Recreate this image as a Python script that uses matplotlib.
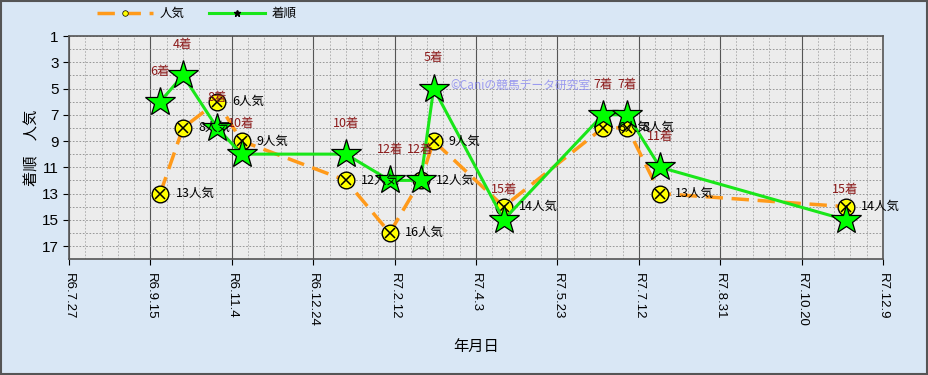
import matplotlib
matplotlib.use("Agg")
import matplotlib.pyplot as plt
import matplotlib.dates as mdates
from matplotlib.patches import Rectangle
import datetime as dt

plt.rcParams['font.family'] = ['Noto Sans CJK JP', 'DejaVu Sans']

# レース日
dates = [dt.date(2024, 9, 21), dt.date(2024, 10, 5), dt.date(2024, 10, 26),
         dt.date(2024, 11, 10), dt.date(2025, 1, 13), dt.date(2025, 2, 9),
         dt.date(2025, 2, 28), dt.date(2025, 3, 8), dt.date(2025, 4, 20),
         dt.date(2025, 6, 20), dt.date(2025, 7, 5), dt.date(2025, 7, 25),
         dt.date(2025, 11, 16)]
ninki = [13, 8, 6, 9, 12, 16, 12, 9, 14, 8, 8, 13, 14]
chakujun = [6, 4, 8, 10, 10, 12, 12, 5, 15, 7, 7, 11, 15]

tick_dates = [dt.date(2024, 7, 27) + dt.timedelta(days=50 * i) for i in range(11)]
tick_labels = ["R6.7.27", "R6.9.15", "R6.11.4", "R6.12.24", "R7.2.12", "R7.4.3",
               "R7.5.23", "R7.7.12", "R7.8.31", "R7.10.20", "R7.12.9"]


def main():
    fig = plt.figure(figsize=(9.29, 3.75), dpi=100)
    fig.patch.set_facecolor("#d9e7f5")
    fig.patches.append(Rectangle((0.001, 0.002), 0.997, 0.995, transform=fig.transFigure,
                                 fill=False, edgecolor="#555555", linewidth=1.5))

    ax = fig.add_axes([0.0743, 0.309, 0.8762, 0.595])
    ax.set_facecolor("#ececec")

    x = mdates.date2num(dates)

    # 人気 (オレンジ破線 + 黄色の丸)
    ax.plot(x, ninki, color="#ff9a1a", linewidth=2.5, linestyle=(0, (5, 2.5)),
            zorder=3)
    ax.plot(x, ninki, linestyle="none", marker="o", markersize=12,
            markerfacecolor="#ffff00", markeredgecolor="black", markeredgewidth=1,
            zorder=4)
    ax.plot(x, ninki, linestyle="none", marker="x", markersize=6.5,
            markeredgecolor="black", markeredgewidth=1.1, zorder=5)

    # 着順 (緑の線 + 星)
    ax.plot(x, chakujun, color="#19e619", linewidth=2.2, zorder=6)
    ax.plot(x, chakujun, linestyle="none", marker="*", markersize=22,
            markerfacecolor="#00ff00", markeredgecolor="black", markeredgewidth=0.9,
            zorder=7)

    # データラベル
    for xi, n, c in zip(x, ninki, chakujun):
        ax.annotate(f"{n}人気", (xi, n), xytext=(11, 0), textcoords="offset points",
                    ha="left", va="center", fontsize=9, color="black", zorder=8)
        ax.annotate(f"{c}着", (xi, c), xytext=(0, 22), textcoords="offset points",
                    ha="center", va="center", fontsize=9, color="#8b1a1a", zorder=8)

    ax.text(0.468, 0.78, "©Caniの競馬データ研究室", transform=ax.transAxes,
            fontsize=8.5, color="#8c8cf0", alpha=0.85, ha="left", va="center", zorder=9)

    # 軸
    ax.set_ylim(18, 1)
    ax.set_yticks(range(1, 18, 2))
    ax.set_yticks(range(1, 19), minor=True)
    ax.set_xlim(mdates.date2num(tick_dates[0]), mdates.date2num(tick_dates[-1]))
    ax.set_xticks(mdates.date2num(tick_dates))
    ax.set_xticklabels(tick_labels, rotation=270, fontsize=9.5, family=["Liberation Sans"])
    minor_x = mdates.date2num([tick_dates[0] + dt.timedelta(days=10 * i) for i in range(51)])
    ax.set_xticks(minor_x, minor=True)
    ax.tick_params(axis="y", labelsize=11, length=4, direction="out")
    ax.tick_params(axis="x", length=4, pad=6)
    ax.tick_params(which="minor", length=0)
    for lab in ax.get_yticklabels():
        lab.set_family(["Liberation Sans"])

    ax.grid(True, which="minor", axis="x", color="#a8a8a8", linestyle=(0, (2, 2)), linewidth=0.6)
    ax.grid(True, which="minor", axis="y", color="#8a8a8a", linestyle=(0, (2, 2)), linewidth=0.6)
    ax.grid(True, which="major", axis="x", color="#555555", linestyle="-", linewidth=0.8)
    ax.grid(True, which="major", axis="y", color="#8a8a8a", linestyle=(0, (2, 2)), linewidth=0.6)
    ax.set_axisbelow(True)
    for s in ax.spines.values():
        s.set_color("#555555")
        s.set_linewidth(1.2)

    ax.set_ylabel("着順　人気", fontsize=11, labelpad=1)
    ax.set_xlabel("年月日", fontsize=11, labelpad=8)

    # 凡例
    h1 = plt.Line2D([], [], color="#ff9a1a", linewidth=2.5, linestyle=(0, (5, 2.5)),
                    marker="o", markersize=4, markerfacecolor="#ffff00",
                    markeredgecolor="black", markeredgewidth=0.5)
    h2 = plt.Line2D([], [], color="#19e619", linewidth=2.2, marker="*", markersize=5,
                    markerfacecolor="black", markeredgecolor="black")
    fig.legend([h1, h2], ["人気", "着順"], loc="center left", bbox_to_anchor=(0.092, 0.963),
               ncol=2, frameon=False, fontsize=9, handlelength=4.5, columnspacing=2,
               handletextpad=0.5)

    fig.savefig("out.png", dpi=100, facecolor=fig.get_facecolor())


if __name__ == "__main__":
    main()
